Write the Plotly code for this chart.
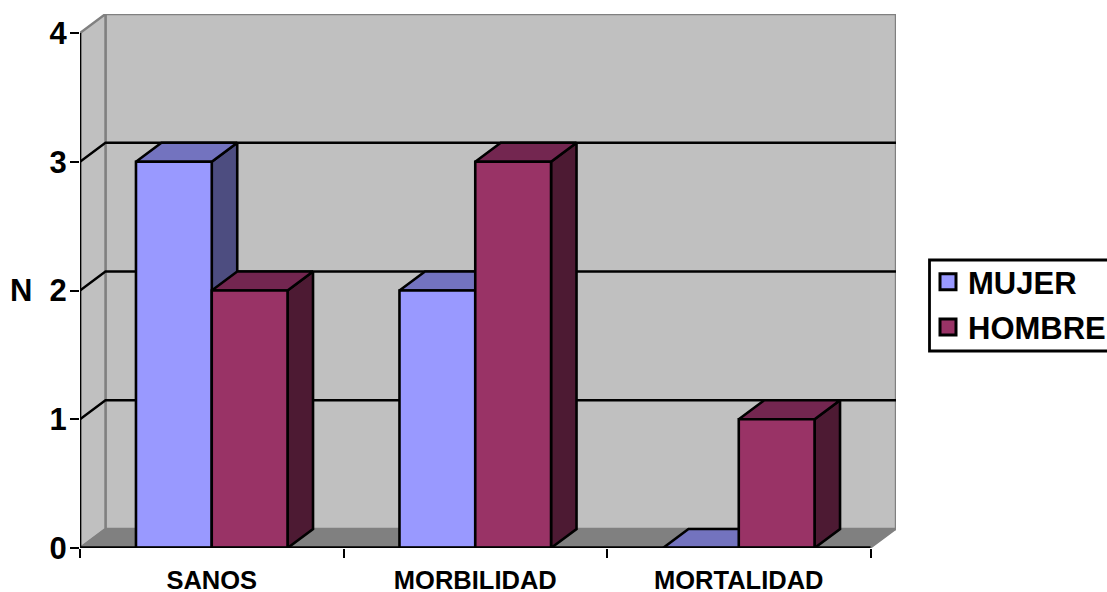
import plotly.graph_objects as go

# Chart data
categories = ["SANOS", "MORBILIDAD", "MORTALIDAD"]
mujer = [3, 2, 0]
hombre = [2, 3, 1]
y_ticks = [0, 1, 2, 3, 4]

# Pseudo-3D geometry, in axis units
DEPTH_X = 0.0967
DEPTH_Y = 0.1476
BAR_W = 0.2876
GAP = 0.2124
Y_MAX = y_ticks[-1]
X_MAX = len(categories)

# Plot area in pixels
FIG_W, FIG_H = 1107, 592
LEFT, RIGHT, TOP, BOTTOM = 80, 211, 14, 44
PLOT_W = FIG_W - LEFT - RIGHT
PLOT_H = FIG_H - TOP - BOTTOM


def paper_x(px):
    return (px - LEFT) / PLOT_W


def paper_y(px):
    return 1 - (px - TOP) / PLOT_H


WALL = "#c0c0c0"
FLOOR = "#808080"
SERIES = [
    ("MUJER", mujer, "#9999ff", "#7373bf", "#4d4d80"),
    ("HOMBRE", hombre, "#993366", "#732650", "#4d1a33"),
]

fig = go.Figure()


def polygon(xs, ys, fill, line="black", width=2.6):
    fig.add_trace(go.Scatter(
        x=xs + xs[:1], y=ys + ys[:1], mode="lines", fill="toself",
        fillcolor=fill, line=dict(color=line, width=width),
        showlegend=False, hoverinfo="skip", cliponaxis=False,
    ))


def segment(xs, ys, color="black", width=2.4):
    fig.add_trace(go.Scatter(
        x=xs, y=ys, mode="lines", line=dict(color=color, width=width),
        showlegend=False, hoverinfo="skip", cliponaxis=False,
    ))


# Back wall, side wall and floor
polygon([DEPTH_X, X_MAX + DEPTH_X, X_MAX + DEPTH_X, DEPTH_X],
        [DEPTH_Y, DEPTH_Y, Y_MAX + DEPTH_Y, Y_MAX + DEPTH_Y], WALL, FLOOR, 2.4)
polygon([0, DEPTH_X, DEPTH_X, 0], [0, DEPTH_Y, Y_MAX + DEPTH_Y, Y_MAX], WALL, FLOOR, 2.4)
polygon([0, X_MAX, X_MAX + DEPTH_X, DEPTH_X], [0, 0, DEPTH_Y, DEPTH_Y], FLOOR, FLOOR, 1.5)

# Gridlines run along the side wall, then across the back wall
for k in y_ticks[1:-1]:
    segment([0, DEPTH_X, X_MAX + DEPTH_X], [k, k + DEPTH_Y, k + DEPTH_Y])

# Bars, painted left to right so nearer faces cover the side faces
for c in range(len(categories)):
    for s, (name, values, front, top, side) in enumerate(SERIES):
        v = values[c]
        x0 = c + GAP + s * BAR_W
        x1 = x0 + BAR_W
        polygon([x1, x1 + DEPTH_X, x1 + DEPTH_X, x1], [0, DEPTH_Y, v + DEPTH_Y, v], side)
        polygon([x0, x1, x1 + DEPTH_X, x0 + DEPTH_X], [v, v, v + DEPTH_Y, v + DEPTH_Y], top)
        if v > 0:
            polygon([x0, x1, x1, x0], [0, 0, v, v], front)

# Legend entries
for s, (name, values, front, top, side) in enumerate(SERIES):
    fig.add_trace(go.Scatter(
        x=[None], y=[None], mode="markers", name=name, legendgroup=name,
        marker=dict(symbol="square", size=20, color=front,
                    line=dict(color="black", width=3)),
    ))

fig.update_layout(
    width=FIG_W, height=FIG_H,
    margin=dict(l=LEFT, r=RIGHT, t=TOP, b=BOTTOM, autoexpand=False),
    paper_bgcolor="white", plot_bgcolor="white",
    font=dict(family="Liberation Sans", color="black"),
    xaxis=dict(
        range=[0, X_MAX + DEPTH_X],
        tickvals=[c + 0.5 for c in range(len(categories))],
        ticktext=categories, ticks="", showgrid=False, zeroline=False,
        showline=False,
        tickfont=dict(size=25.5, weight=700), ticklabelstandoff=14,
        minor=dict(tickvals=list(range(len(categories) + 1)), ticks="outside",
                   ticklen=9, tickwidth=2.4, tickcolor="black", showgrid=False),
    ),
    yaxis=dict(
        range=[0, Y_MAX + DEPTH_Y], tickvals=y_ticks, ticks="outside",
        ticklen=9, tickwidth=2.4, tickcolor="black", showgrid=False,
        zeroline=False, showline=False, ticklabelstandoff=-3,
        tickfont=dict(size=31, weight=700),
    ),
    legend=dict(
        x=paper_x(928), xref="paper", xanchor="left",
        y=paper_y(255), yref="paper", yanchor="top",
        bgcolor="rgba(0,0,0,0)", borderwidth=0,
        font=dict(size=31, weight=700), tracegroupgap=2,
        traceorder="grouped", itemclick=False, itemdoubleclick=False,
    ),
    # Legend frame runs off the right edge of the page
    shapes=[dict(
        type="rect", xref="paper", yref="paper",
        x0=paper_x(929.5), x1=paper_x(1115), y0=paper_y(260), y1=paper_y(351),
        line=dict(color="black", width=2.8), fillcolor="white", layer="above",
    )],
    annotations=[dict(
        text="<b>N</b>", xref="paper", yref="paper", x=paper_x(34), y=paper_y(290),
        xanchor="right", yanchor="middle", showarrow=False, font=dict(size=31),
    )],
)

# Axis baseline and vertical axis line on top of the walls
segment([0, X_MAX], [0, 0], "black", 3.4)
segment([0, 0], [0, Y_MAX], "black", 2.6)

fig.write_html("out.html")
